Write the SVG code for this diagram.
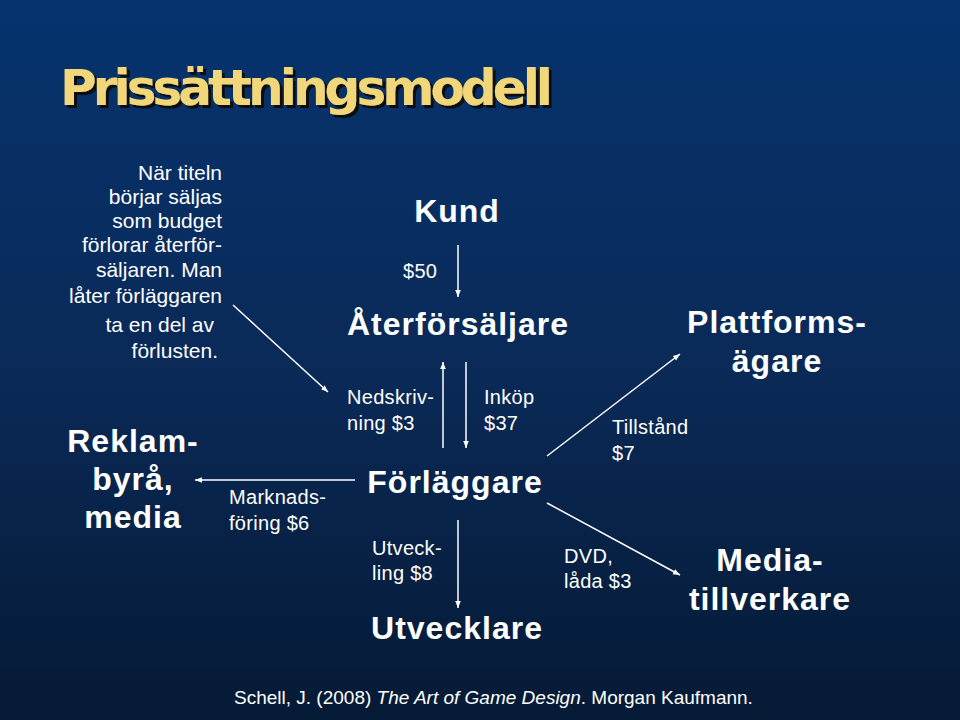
<svg xmlns="http://www.w3.org/2000/svg" width="960" height="720" viewBox="0 0 960 720">
<defs>
<linearGradient id="bg" x1="0" y1="0" x2="0" y2="1">
<stop offset="0" stop-color="#05336e"/>
<stop offset="0.5" stop-color="#0a2a58"/>
<stop offset="1" stop-color="#051a35"/>
</linearGradient>
<filter id="sh" x="-5%" y="-20%" width="110%" height="150%"><feDropShadow dx="3" dy="3" stdDeviation="0.5" flood-color="#111"/></filter>
<marker id="ah" viewBox="0 0 10 10" refX="10" refY="5" markerWidth="7" markerHeight="7" orient="auto-start-reverse" markerUnits="userSpaceOnUse"><path d="M0,1 L10,5 L0,9 z" fill="#fff"/></marker>
<style>
text{font-family:"Liberation Sans",Arial,sans-serif;fill:#fff}
.big{font-size:32px;font-weight:bold;letter-spacing:1px}
.lab{font-size:20px;letter-spacing:0.3px}
.note{font-size:21px}
line{stroke:#fff;stroke-width:1.5;marker-end:url(#ah)}
</style>
</defs>
<rect width="960" height="720" fill="url(#bg)"/>
<g id="title">
<text x="60" y="105" font-size="50" font-weight="bold" style="fill:#f2d77a;font-family:'DejaVu Sans',sans-serif" letter-spacing="-1" textLength="492" filter="url(#sh)">Prissättningsmodell</text>
</g>
<g id="note" text-anchor="end">
<text x="222" y="180" class="note">När titeln</text>
<text x="222" y="204" class="note">börjar säljas</text>
<text x="222" y="228" class="note">som budget</text>
<text x="222" y="252" class="note">förlorar återför-</text>
<text x="222" y="277" class="note">säljaren. Man</text>
<text x="222" y="303" class="note">låter förläggaren</text>
<text x="214" y="332" class="note">ta en del av</text>
<text x="218" y="358" class="note">förlusten.</text>
</g>
<g id="kund"><text x="457" y="222" class="big" text-anchor="middle">Kund</text></g>
<g id="aterforsaljare"><text x="458" y="335" class="big" text-anchor="middle">Återförsäljare</text></g>
<g id="forlaggare"><text x="455" y="493" class="big" text-anchor="middle">Förläggare</text></g>
<g id="utvecklare"><text x="457" y="639" class="big" text-anchor="middle">Utvecklare</text></g>
<g id="reklam" text-anchor="middle">
<text x="133" y="452" class="big">Reklam-</text>
<text x="133" y="490" class="big">byrå,</text>
<text x="133" y="528" class="big">media</text>
</g>
<g id="plattform" text-anchor="middle">
<text x="777" y="333" class="big">Plattforms-</text>
<text x="777" y="372" class="big">ägare</text>
</g>
<g id="media" text-anchor="middle">
<text x="770" y="571" class="big">Media-</text>
<text x="770" y="610" class="big">tillverkare</text>
</g>
<g id="connectors">
<line x1="458" y1="245" x2="458" y2="297"/>
<line x1="443" y1="448" x2="443" y2="362"/>
<line x1="466" y1="362" x2="466" y2="448"/>
<line x1="233" y1="305" x2="328" y2="392"/>
<line x1="355" y1="480" x2="195" y2="480"/>
<line x1="547" y1="456" x2="680" y2="354"/>
<line x1="547" y1="503" x2="680" y2="575"/>
<line x1="458" y1="520" x2="458" y2="608"/>
</g>
<g id="labels">
<text x="403" y="278" class="lab">$50</text>
<text x="347" y="404" class="lab">Nedskriv-</text>
<text x="347" y="430" class="lab">ning $3</text>
<text x="484" y="404" class="lab">Inköp</text>
<text x="484" y="430" class="lab">$37</text>
<text x="612" y="434" class="lab">Tillstånd</text>
<text x="612" y="460" class="lab">$7</text>
<text x="229" y="504" class="lab">Marknads-</text>
<text x="229" y="530" class="lab">föring $6</text>
<text x="372" y="555" class="lab">Utveck-</text>
<text x="372" y="580" class="lab">ling $8</text>
<text x="564" y="563" class="lab">DVD,</text>
<text x="564" y="588" class="lab">låda $3</text>
</g>
<g id="cite"><text x="234" y="704" font-size="19">Schell, J. (2008) <tspan font-style="italic">The Art of Game Design</tspan>. Morgan Kaufmann.</text></g>
</svg>
